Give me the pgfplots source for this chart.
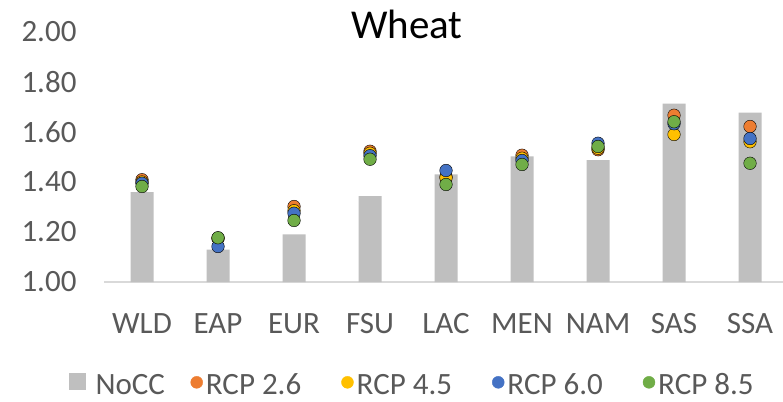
\documentclass[border=0pt]{standalone}
\usepackage{pgfplots}
\pgfplotsset{compat=1.18}
\usepackage{pgfplotstable}
\usepackage{fontspec}
\setmainfont{Carlito}
\definecolor{barGray}{HTML}{BFBFBF}
\definecolor{rcpOrange}{HTML}{ED7D31}
\definecolor{rcpYellow}{HTML}{FFC000}
\definecolor{rcpBlue}{HTML}{4472C4}
\definecolor{rcpGreen}{HTML}{70AD47}
\definecolor{txtGray}{HTML}{595959}
\definecolor{axGray}{HTML}{D9D9D9}

\pgfplotstableread{
x nocc r26 r45 r60 r85
0 1.359 1.409 1.400 1.395 1.382
1 1.129 1.175 1.175 1.142 1.177
2 1.190 1.302 1.285 1.275 1.246
3 1.343 1.523 1.515 1.505 1.491
4 1.430 1.420 1.417 1.446 1.390
5 1.502 1.507 1.495 1.486 1.470
6 1.487 1.529 1.535 1.555 1.542
7 1.713 1.667 1.590 1.633 1.641
8 1.677 1.622 1.561 1.574 1.475
}\datatable

\begin{document}
\begin{tikzpicture}
\path[use as bounding box] (0,0) rectangle (783pt,401pt);
\begin{axis}[
  at={(104pt,119pt)}, anchor=south west,
  scale only axis, width=679pt, height=250pt,
  xmin=-0.5, xmax=8.434, ymin=1, ymax=2,
  xtick={0,1,2,3,4,5,6,7,8},
  xticklabels={WLD,EAP,EUR,FSU,LAC,MEN,NAM,SAS,SSA},
  ytick={1,1.2,1.4,1.6,1.8,2},
  /pgf/number format/fixed, /pgf/number format/fixed zerofill,
  /pgf/number format/precision=2, /pgf/number format/assume math mode=true,
  axis x line=bottom, axis y line=left,
  x axis line style={draw=axGray, line width=1.2pt, -},
  y axis line style={draw=none},
  major tick length=0pt, tick style={draw=none},
  ticklabel style={font=\fontsize{31}{34}\selectfont, text=txtGray},
  y tick label style={xshift=-24pt},
  x tick label style={yshift=-28pt},
  title={Wheat},
  title style={font=\fontsize{41}{46}\selectfont, at={(0.4462,0.948)}, anchor=base, text=black},
  legend style={draw=none, fill=none, font=\fontsize{31}{34}\selectfont, text=txtGray,
    at={(0.4522,-0.41)}, anchor=center, legend columns=-1,
    /tikz/every odd column/.append style={column sep=3pt},
    /tikz/every even column/.append style={column sep=40pt},
    nodes={inner sep=0pt}},
]
\addplot[ybar, bar width=23pt, fill=barGray, draw=none,
  legend image code/.code={\fill[barGray] (0pt,-5pt) rectangle (17pt,12pt); \path (24pt,0pt);}]
  table[x=x,y=nocc]{\datatable};
\addlegendentry{\makebox[55pt][l]{NoCC}}
\addplot[only marks, mark=*, mark size=6.3pt, mark options={fill=rcpOrange, draw=none},
  legend image code/.code={\fill[rcpOrange] (6pt,2.5pt) circle (6pt);}]
  table[x=x,y=r26]{\datatable};
\addlegendentry{RCP 2.6}
\addplot[only marks, mark=*, mark size=6.3pt, mark options={fill=rcpYellow, draw=none},
  legend image code/.code={\fill[rcpYellow] (6pt,2.5pt) circle (6pt);}]
  table[x=x,y=r45]{\datatable};
\addlegendentry{RCP 4.5}
\addplot[only marks, mark=*, mark size=6.3pt, mark options={fill=rcpBlue, draw=none},
  legend image code/.code={\fill[rcpBlue] (6pt,2.5pt) circle (6pt);}]
  table[x=x,y=r60]{\datatable};
\addlegendentry{RCP 6.0}
\addplot[only marks, mark=*, mark size=6.3pt, mark options={fill=rcpGreen, draw=none},
  legend image code/.code={\fill[rcpGreen] (6pt,2.5pt) circle (6pt);}]
  table[x=x,y=r85]{\datatable};
\addlegendentry{RCP 8.5}
\end{axis}
\end{tikzpicture}
\end{document}
